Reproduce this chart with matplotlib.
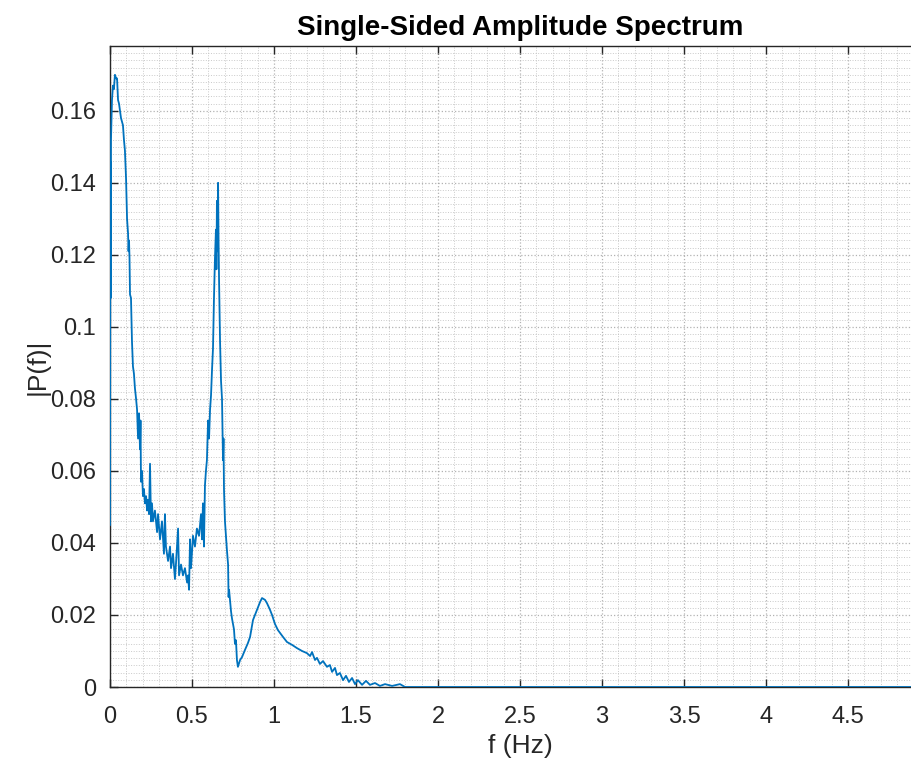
import matplotlib
matplotlib.use("Agg")
import matplotlib.pyplot as plt
from matplotlib.ticker import MultipleLocator

# spectrum (frequency in Hz, amplitude)
freq_hz = [
    0.000, 0.002, 0.004, 0.006, 0.012, 0.018, 0.024, 0.030, 0.037, 0.043,
    0.049, 0.055, 0.061, 0.067, 0.079, 0.085, 0.091, 0.098, 0.104, 0.110,
    0.113, 0.116, 0.119, 0.122, 0.128, 0.134, 0.140, 0.146, 0.152, 0.159,
    0.165, 0.171, 0.177, 0.183, 0.186, 0.189, 0.195, 0.201, 0.207, 0.213,
    0.220, 0.226, 0.232, 0.238, 0.244, 0.250, 0.256, 0.262, 0.274, 0.287,
    0.293, 0.305, 0.317, 0.329, 0.335, 0.341, 0.354, 0.366, 0.372, 0.384,
    0.396, 0.402, 0.415, 0.421, 0.433, 0.445, 0.457, 0.470, 0.476, 0.482,
    0.488, 0.494, 0.506, 0.518, 0.530, 0.543, 0.555, 0.561, 0.567, 0.573,
    0.579, 0.585, 0.591, 0.598, 0.604, 0.610, 0.616, 0.622, 0.628, 0.634,
    0.640, 0.646, 0.649, 0.652, 0.655, 0.659, 0.662, 0.665, 0.671, 0.677,
    0.683, 0.689, 0.692, 0.695, 0.701, 0.713, 0.720, 0.723, 0.726, 0.738,
    0.744, 0.756, 0.762, 0.768, 0.774, 0.780, 0.793, 0.805, 0.823, 0.841,
    0.854, 0.872, 0.896, 0.915, 0.927, 0.945, 0.957, 0.976, 0.988, 1.006,
    1.024, 1.055, 1.079, 1.110, 1.140, 1.171, 1.201, 1.220, 1.232, 1.250,
    1.262, 1.280, 1.299, 1.323, 1.341, 1.354, 1.372, 1.384, 1.402, 1.421,
    1.439, 1.457, 1.476, 1.494, 1.512, 1.537, 1.561, 1.585, 1.616, 1.646,
    1.677, 1.720, 1.768, 1.799, 5.000,
]
amplitude = [
    0.045, 0.146, 0.108, 0.152, 0.163, 0.167, 0.166, 0.170, 0.169, 0.169,
    0.163, 0.162, 0.160, 0.158, 0.156, 0.152, 0.149, 0.141, 0.130, 0.126,
    0.121, 0.124, 0.119, 0.109, 0.108, 0.096, 0.089, 0.087, 0.083, 0.080,
    0.077, 0.069, 0.076, 0.066, 0.074, 0.057, 0.060, 0.053, 0.055, 0.051,
    0.053, 0.049, 0.052, 0.048, 0.062, 0.046, 0.051, 0.046, 0.049, 0.043,
    0.048, 0.041, 0.046, 0.037, 0.048, 0.039, 0.035, 0.039, 0.033, 0.037,
    0.030, 0.034, 0.044, 0.031, 0.034, 0.031, 0.033, 0.029, 0.031, 0.027,
    0.041, 0.033, 0.042, 0.039, 0.044, 0.042, 0.048, 0.041, 0.051, 0.039,
    0.056, 0.060, 0.063, 0.074, 0.069, 0.077, 0.081, 0.088, 0.094, 0.108,
    0.119, 0.127, 0.116, 0.135, 0.121, 0.140, 0.124, 0.113, 0.096, 0.085,
    0.080, 0.063, 0.069, 0.055, 0.046, 0.038, 0.034, 0.025, 0.027, 0.021,
    0.019, 0.016, 0.012, 0.013, 0.0075, 0.0056, 0.0075, 0.0083, 0.0103, 0.0122,
    0.0139, 0.0186, 0.0214, 0.0236, 0.0247, 0.0242, 0.0233, 0.0214, 0.0200, 0.0175,
    0.0158, 0.0139, 0.0125, 0.0117, 0.0108, 0.0100, 0.0094, 0.0086, 0.0097, 0.0075,
    0.0081, 0.0064, 0.0072, 0.0056, 0.0061, 0.0042, 0.0053, 0.0033, 0.0039, 0.0019,
    0.0031, 0.0014, 0.0025, 0.0008, 0.0019, 0.0006, 0.0017, 0.0006, 0.0011, 0.0003,
    0.0008, 0.0003, 0.0008, 0.0000, 0.0000,
]
x_ticks = [0, 0.5, 1, 1.5, 2, 2.5, 3, 3.5, 4, 4.5]
y_ticks = [0, 0.02, 0.04, 0.06, 0.08, 0.1, 0.12, 0.14, 0.16]

plt.rcParams['font.family'] = ['Liberation Sans', 'DejaVu Sans']
axis_col = '#262626'

fig = plt.figure(figsize=(9.11, 7.69), dpi=100)
# axes run past the right edge, as in the cropped reference
ax = fig.add_axes([110 / 911, 82 / 769, 820 / 911, 641 / 769])

ax.plot(freq_hz, amplitude, color='#0072BD', linewidth=1.3, zorder=3)

ax.set_xlim(0, 5)
ax.set_ylim(0, 0.178)
ax.set_xticks(x_ticks)
ax.set_xticklabels([f"{t:g}" for t in x_ticks])
ax.set_yticks(y_ticks)
ax.set_yticklabels([f"{t:g}" for t in y_ticks])
ax.xaxis.set_minor_locator(MultipleLocator(0.1))
ax.yaxis.set_minor_locator(MultipleLocator(0.002))

ax.grid(which='major', color='#999999', linestyle=':', linewidth=0.9, alpha=0.75)
ax.grid(which='minor', color='#b8b8b8', linestyle=':', linewidth=0.7, alpha=0.75)
ax.set_axisbelow(True)

ax.tick_params(which='major', direction='in', length=6, width=1, colors=axis_col,
               labelsize=17, top=True, right=True)
ax.tick_params(axis='x', which='major', pad=14)
ax.tick_params(axis='y', which='major', pad=10)
ax.tick_params(which='minor', length=0)
for s in ax.spines.values():
    s.set_color(axis_col)
    s.set_linewidth(1)

ax.set_title('Single-Sided Amplitude Spectrum', fontsize=20, fontweight='bold',
             color='black', pad=8)
ax.set_xlabel('f (Hz)', fontsize=19, color=axis_col, labelpad=4)
ax.set_ylabel('|P(f)|', fontsize=19, color=axis_col, labelpad=0)

fig.savefig('out.png', dpi=100)
plt.close(fig)
